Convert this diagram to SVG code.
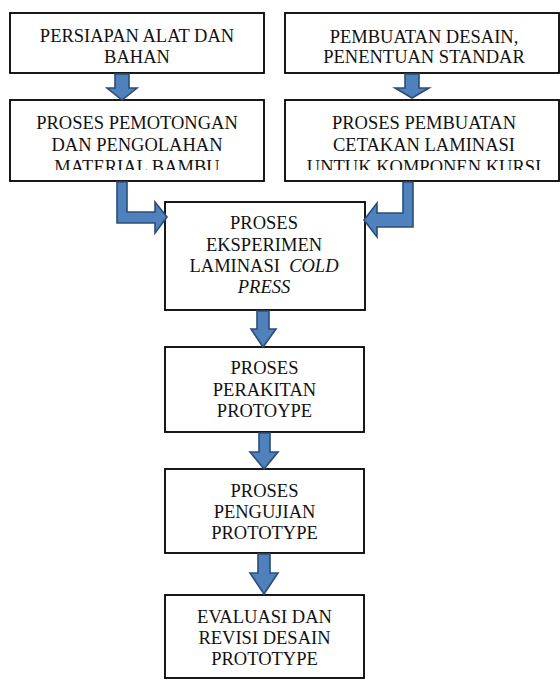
<svg xmlns="http://www.w3.org/2000/svg" width="560" height="680" viewBox="0 0 560 680">
<style>
.box{fill:#fff;stroke:#000;stroke-width:1.8}
.t{font-family:"Liberation Serif","Times New Roman",serif;font-size:18.5px;fill:#111;text-anchor:middle}
.ar{fill:#4f81bd;stroke:#2c4d75;stroke-width:1.6;stroke-linejoin:miter}
</style>
<defs>
<clipPath id="c2"><rect x="10" y="100" width="254" height="70"/></clipPath>
<clipPath id="c4"><rect x="285" y="100" width="274" height="70"/></clipPath>
</defs>
<rect width="560" height="680" fill="#fff"/>
<g id="n1"><rect class="box" x="10" y="13" width="254" height="60"/>
<text class="t" x="137" y="42">PERSIAPAN ALAT DAN</text><text class="t" x="137" y="63">BAHAN</text></g>
<g id="n2"><rect class="box" x="10" y="100" width="254" height="81"/>
<g clip-path="url(#c2)"><text class="t" x="137" y="129">PROSES PEMOTONGAN</text><text class="t" x="137" y="151">DAN PENGOLAHAN</text><text class="t" x="137" y="173">MATERIAL BAMBU</text></g></g>
<g id="n3"><rect class="box" x="285" y="13" width="274" height="60"/>
<text class="t" x="424" y="43">PEMBUATAN DESAIN,</text><text class="t" x="424" y="63">PENENTUAN STANDAR</text></g>
<g id="n4"><rect class="box" x="285" y="100" width="274" height="81"/>
<g clip-path="url(#c4)"><text class="t" x="424" y="129">PROSES PEMBUATAN</text><text class="t" x="424" y="151">CETAKAN LAMINASI</text><text class="t" x="424" y="173">UNTUK KOMPONEN KURSI</text></g></g>
<g id="n5"><rect class="box" x="165" y="202" width="200" height="108"/>
<text class="t" x="264" y="229">PROSES</text><text class="t" x="264" y="251">EKSPERIMEN</text>
<text class="t" x="264" y="272" xml:space="preserve">LAMINASI  <tspan font-style="italic">COLD</tspan></text>
<text class="t" x="264" y="293" font-style="italic">PRESS</text></g>
<g id="n6"><rect class="box" x="165" y="347" width="199" height="85"/>
<text class="t" x="264.5" y="374">PROSES</text><text class="t" x="264.5" y="395.5">PERAKITAN</text><text class="t" x="264.5" y="417">PROTOYPE</text></g>
<g id="n7"><rect class="box" x="165" y="469" width="199" height="84"/>
<text class="t" x="264.5" y="497">PROSES</text><text class="t" x="264.5" y="518">PENGUJIAN</text><text class="t" x="264.5" y="539">PROTOTYPE</text></g>
<g id="n8"><rect class="box" x="165" y="595" width="199" height="83"/>
<text class="t" x="264.5" y="623">EVALUASI DAN</text><text class="t" x="264.5" y="644">REVISI DESAIN</text><text class="t" x="264.5" y="665">PROTOTYPE</text></g>
<g id="connectors">
<path class="ar" d="M115,74 H129 V88 H137 L122,100 L107,88 H115 Z"/>
<path class="ar" d="M405,74 H419 V88 H429 L412,98 L395,88 H405 Z"/>
<path class="ar" d="M117,182 H127 V212 H155 V202 L167,217 L155,233 V223 H117 Z"/>
<path class="ar" d="M403,182 H413 V227 H377 V237 L364,220 L377,203 V213 H403 Z"/>
<path class="ar" d="M257,311 H269 V329 H276 L263,347 L251,329 H257 Z"/>
<path class="ar" d="M259,433 H270 V452 H278 L264,469 L250,452 H259 Z"/>
<path class="ar" d="M258,554 H270 V573 H278 L264,594 L250,573 H258 Z"/>
</g>
</svg>
